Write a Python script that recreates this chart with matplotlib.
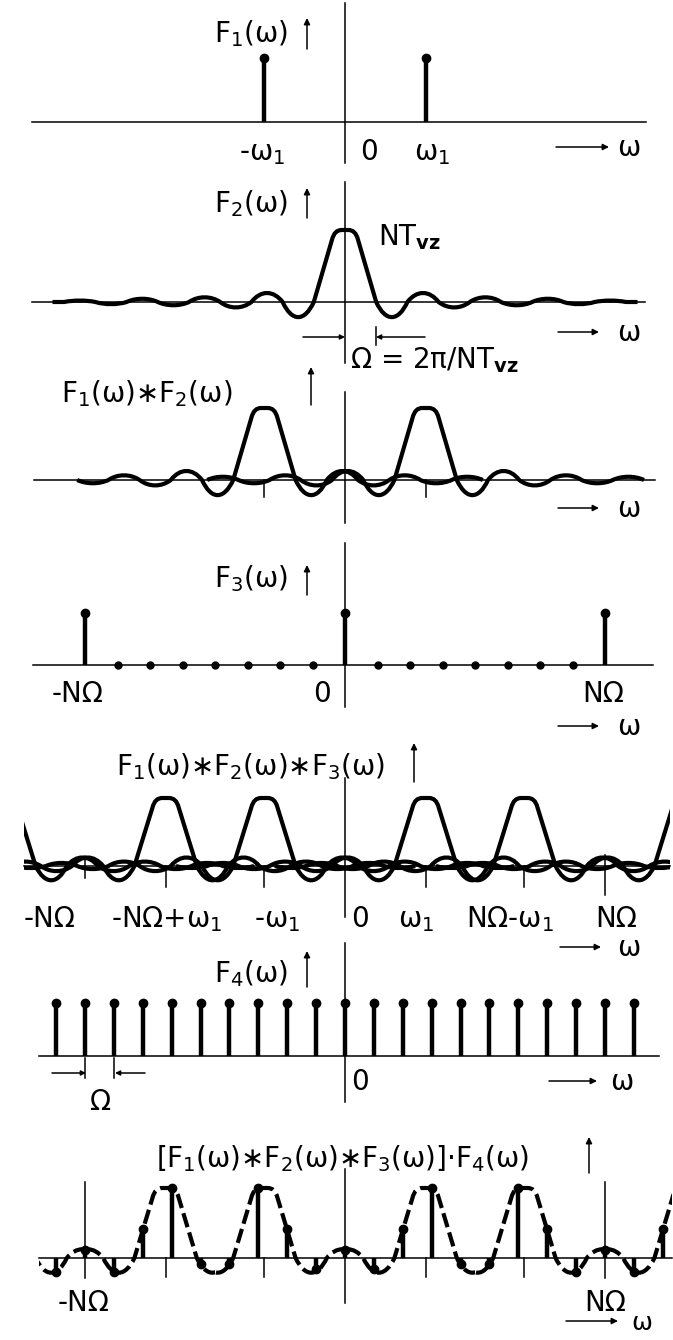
import matplotlib
matplotlib.use("Agg")
import matplotlib.pyplot as plt
from matplotlib.path import Path
from matplotlib.patches import PathPatch, Rectangle, FancyArrowPatch
from matplotlib.transforms import Affine2D, blended_transform_factory

plt.rcParams["font.family"] = ["DejaVu Sans"]
plt.rcParams["mathtext.fontset"] = "dejavusans"
plt.rcParams["mathtext.default"] = "regular"

# ---- data (omega measured in units of N*Omega) ----
w1 = 0.31          # omega_1
lobe_w = 0.12      # width of one sinc lobe (Omega)

f1_pos = [-w1, w1]
f1_val = [1.0, 1.0]

# F2: extremum of main lobe, then of each side lobe
f2_lobes = [1.0, -0.21, 0.125, -0.075, 0.065, -0.045, 0.045, -0.03, 0.02]

f3_pos = [-1.0, 0.0, 1.0]
f3_val = [1.0, 1.0, 1.0]
f3_zero = [-0.875, -0.75, -0.625, -0.5, -0.375, -0.25, -0.125,
           0.125, 0.25, 0.375, 0.5, 0.625, 0.75, 0.875]

copies3 = [-w1, w1]
copies5 = [-1 - w1, -1 + w1, -w1, w1, 1 - w1, 1 + w1]

f4_step = 1 / 9
f4_k = list(range(-10, 11))
f4_val = [1.0] * len(f4_k)

f7_k = list(range(-10, 12))
f7_val = [-0.2, 0.11, -0.2, 0.41, 1.0, -0.09, -0.09, 1.0, 0.41, -0.16, 0.12,
          -0.16, 0.41, 1.0, -0.09, -0.09, 1.0, 0.41, -0.2, 0.11, -0.2, 0.41]

p1_ticks = ["-ω$_1$", "0", "ω$_1$"]
p4_ticks = ["-NΩ", "0", "NΩ"]
p5_ticks = ["-NΩ", "-NΩ+ω$_1$", "-ω$_1$", "0", "ω$_1$", "NΩ-ω$_1$", "NΩ"]
p7_ticks = ["-NΩ", "NΩ"]

# ---- figure ----
W, H = 673, 1340
fig = plt.figure(figsize=(W / 100, H / 100), dpi=100)
fig.patch.set_facecolor("white")
px = Affine2D().scale(1 / W, -1 / H).translate(0, 1) + fig.transFigure
FS = 20


def make_ax(axis_px, unit_px):
    ax = fig.add_axes([0, 0, 1, 1])
    ax.set_xlim(-345 / 260, (W - 345) / 260)
    ax.set_ylim(-(H - axis_px) / unit_px, axis_px / unit_px)
    ax.axis("off")
    ax.patch.set_alpha(0)
    return ax


def axis_line(ax, x0, x1):
    ax.axhline(0, x0 / W, x1 / W, color="k", lw=1.1)


def vline(ax, y0, y1, x=0.0):
    ax.plot([x, x], [y0, y1], transform=blended_transform_factory(ax.transData, px),
            color="k", lw=1.1)


def arrow(x0, y0, x1, y1, ms=9):
    fig.add_artist(FancyArrowPatch((x0, y0), (x1, y1), transform=px, arrowstyle="-|>",
                                   mutation_scale=ms, lw=1.1, color="k",
                                   shrinkA=0, shrinkB=0))


def label(x, y, s, ha="center", size=FS):
    fig.text(x / W, 1 - y / H, s, ha=ha, va="baseline", fontsize=size)


def omega_axis(x0, x1, y, xw, size=FS):
    arrow(x0, y, x1, y)
    label(xw, y + 9, "ω", size=size)


def stems(ax, pos, val, lw=3.2, ms=6):
    ax.vlines(pos, 0, val, colors="k", lw=lw)
    ax.plot(pos, val, "o", color="k", ms=ms)


def side_lobes(verts, codes, x, ks, p=0.3):
    w = lobe_w
    for k in ks:
        a = f2_lobes[k] * 4 / 3
        verts += [(x + p * w, a), (x + w - p * w, a), (x + w, 0)]
        codes += [Path.CURVE4] * 3
        x += w
    return x


def sinc_path(c, n_left, n_right, tail=0.0):
    w = lobe_w
    top = f2_lobes[0]
    x = c - (n_left + 1) * w
    verts, codes = [], []
    if tail:
        verts += [(x - tail, 0), (x, 0)]
        codes += [Path.MOVETO, Path.LINETO]
    else:
        verts.append((x, 0))
        codes.append(Path.MOVETO)
    side_lobes(verts, codes, x, range(n_left, 0, -1))
    # main lobe: straight steep flanks, rounded flat top
    verts += [(c - 0.42 * w, 0.86 * top),
              (c - 0.36 * w, 0.96 * top), (c - 0.26 * w, top), (c - 0.1 * w, top),
              (c + 0.1 * w, top),
              (c + 0.26 * w, top), (c + 0.36 * w, 0.96 * top), (c + 0.42 * w, 0.86 * top),
              (c + w, 0)]
    codes += [Path.LINETO] + [Path.CURVE4] * 3 + [Path.LINETO] + [Path.CURVE4] * 3 + [Path.LINETO]
    x = side_lobes(verts, codes, c + w, range(1, n_right + 1))
    if tail:
        verts.append((x + tail, 0))
        codes.append(Path.LINETO)
    return Path(verts, codes)


def draw_sinc(ax, c, n_left, n_right, tail=0.0, clip=None, ls="-"):
    patch = PathPatch(sinc_path(c, n_left, n_right, tail), fill=False, ec="k", lw=3,
                      ls=ls, joinstyle="round", capstyle="butt")
    ax.add_patch(patch)
    if clip is not None:
        rect = Rectangle((clip[0], -5), clip[1] - clip[0], 10, transform=ax.transData)
        patch.set_clip_path(rect)


# ---- panel 1: F1 ----
ax1 = make_ax(122, 64)
axis_line(ax1, 32, 646)
vline(ax1, 3, 163)
stems(ax1, f1_pos, f1_val)
label(288, 42, "F$_1$(ω)", ha="right")
arrow(307, 49, 307, 18)
for s, x in zip(p1_ticks, [262, 369, 432]):
    label(x, 160, s)
omega_axis(556, 609, 147, 629)

# ---- panel 2: F2 ----
ax2 = make_ax(302, 72)
axis_line(ax2, 32, 645)
vline(ax2, 182, 363)
draw_sinc(ax2, 0.0, 8, 8, tail=0.045)
label(288, 212, "F$_2$(ω)", ha="right")
arrow(307, 218, 307, 188)
label(378, 245, "NT$_{\\mathbf{vz}}$", ha="left")
vline(ax2, 327, 345, x=lobe_w)
arrow(303, 337, 345, 337, ms=7)
arrow(425, 337, 376, 337, ms=7)
omega_axis(558, 599, 332, 629)

# ---- panel 3: F1 * F2 ----
ax3 = make_ax(480, 72)
axis_line(ax3, 34, 655)
vline(ax3, 392, 523)
draw_sinc(ax3, copies3[0], 5, 6)
draw_sinc(ax3, copies3[1], 6, 6)
for c in copies3:
    vline(ax3, 480, 497, x=c)
label(350, 368, "Ω = 2π/NT$_{\\mathbf{vz}}$", ha="left")
label(147, 402, "F$_1$(ω)∗F$_2$(ω)")
arrow(311, 405, 311, 367)
omega_axis(558, 599, 508, 629)

# ---- panel 4: F3 ----
ax4 = make_ax(665, 52)
axis_line(ax4, 33, 653)
vline(ax4, 543, 707)
stems(ax4, f3_pos, f3_val)
ax4.plot(f3_zero, [0] * len(f3_zero), "o", color="k", ms=5)
label(288, 587, "F$_3$(ω)", ha="right")
arrow(307, 595, 307, 565)
for s, x in zip(p4_ticks, [78, 322, 603]):
    label(x, 702, s)
omega_axis(558, 599, 726, 629)

# ---- panel 5: F1 * F2 * F3 ----
ax5 = make_ax(866, 68)
axis_line(ax5, 24, 670)
vline(ax5, 778, 917)
x5 = (-321 / 260, 325 / 260)
for c in copies5:
    draw_sinc(ax5, c, 7, 7, clip=x5)
vline(ax5, 857, 878, x=-1.0)
vline(ax5, 855, 895, x=1.0)
for c in copies5[1:-1]:
    vline(ax5, 866, 887, x=c)
label(250, 775, "F$_1$(ω)∗F$_2$(ω)∗F$_3$(ω)")
arrow(414, 782, 414, 743)
for s, x in zip(p5_ticks, [50, 167, 277, 360, 416, 510, 616]):
    label(x, 927, s)
omega_axis(560, 601, 947, 629)

# ---- panel 6: F4 ----
ax6 = make_ax(1056, 53)
axis_line(ax6, 39, 659)
vline(ax6, 943, 1102)
stems(ax6, [k * f4_step for k in f4_k], f4_val)
label(288, 982, "F$_4$(ω)", ha="right")
arrow(307, 987, 307, 951)
vline(ax6, 1058, 1078, x=-9 * f4_step)
vline(ax6, 1058, 1078, x=-8 * f4_step)
arrow(52, 1073, 86, 1073, ms=7)
arrow(145, 1073, 115, 1073, ms=7)
label(101, 1110, "Ω")
label(360, 1090, "0")
omega_axis(549, 597, 1081, 622)

# ---- panel 7: [F1 * F2 * F3] . F4 ----
ax7 = make_ax(1258, 70)
axis_line(ax7, 39, 672)
vline(ax7, 1169, 1303)
vline(ax7, 1182, 1278, x=-1.0)
vline(ax7, 1182, 1278, x=1.0)
for c in copies5[1:-1]:
    vline(ax7, 1258, 1277, x=c)
bounds = [-306 / 260] + [(a + b) / 2 for a, b in zip(copies5[:-1], copies5[1:])] + [327 / 260]
for i, c in enumerate(copies5):
    draw_sinc(ax7, c, 7, 7, clip=(bounds[i], bounds[i + 1]), ls=(0, (3.5, 1.3)))
stems(ax7, [k * f4_step for k in f7_k], f7_val)
label(343, 1167, "[F$_1$(ω)∗F$_2$(ω)∗F$_3$(ω)]·F$_4$(ω)")
arrow(589, 1173, 589, 1137)
for s, x in zip(p7_ticks, [84, 605]):
    label(x, 1311, s)
omega_axis(566, 618, 1321, 642, size=18)

fig.savefig("out.png", dpi=100, facecolor="white")
